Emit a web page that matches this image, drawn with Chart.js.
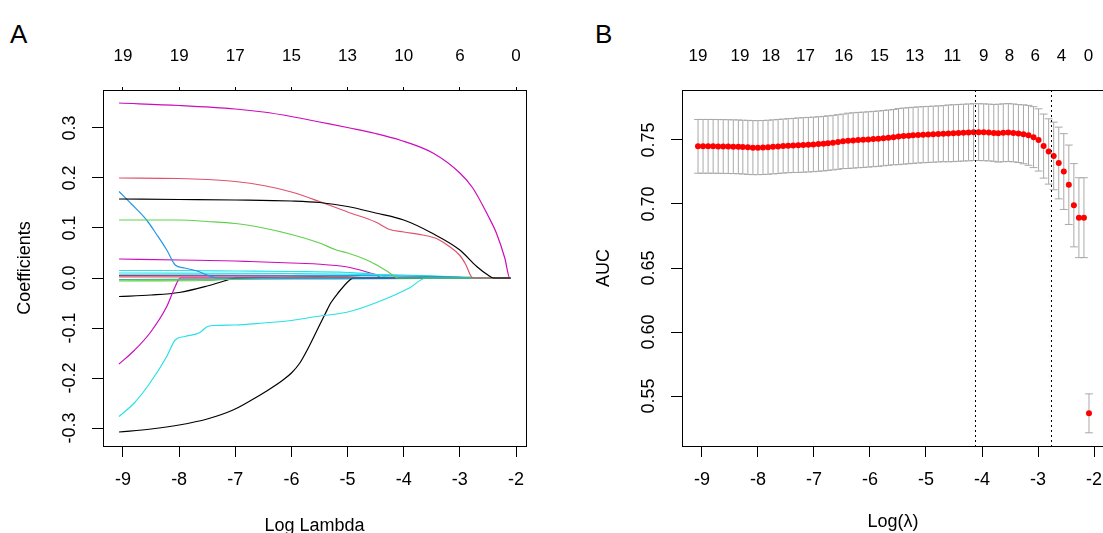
<!DOCTYPE html>
<html>
<head>
<meta charset="utf-8">
<script src="https://cdn.jsdelivr.net/npm/chart.js@4.4.1/dist/chart.umd.min.js"></script>
<style>
  body { margin: 0; width: 1103px; height: 533px; overflow: hidden; position: relative; background: #fff; }
  .panel-label { position: absolute; font: 26px 'Liberation Sans', Arial, sans-serif; line-height: 1; color: #000; }
  .wrap { position: absolute; top: 0; height: 533px; }
</style>
</head>
<body>
<div class="panel-label" style="left:10px;top:21px">A</div>
<div class="panel-label" style="left:595px;top:21px">B</div>
<div class="wrap" style="left:0;width:551px"><canvas id="chartA" width="551" height="533"></canvas></div>
<div class="wrap" style="left:551px;width:600px"><canvas id="chartB" width="600" height="533"></canvas></div>
<script>
// axis ranges / ticks
const xRange = [-9.356, -1.822];
const xTicks = [-9, -8, -7, -6, -5, -4, -3, -2];
const yRangeA = [-0.336, 0.376];
const yTicksA = [-0.3, -0.2, -0.1, 0, 0.1, 0.2, 0.3];
const yRangeB = [0.511, 0.789];
const yTicksB = [0.55, 0.60, 0.65, 0.70, 0.75];

// top axis: number of non-zero coefficients
const topLabelsA = ['19', '19', '17', '15', '13', '10', '6', '0'];
const topPosB = [-9.07, -8.32, -7.77, -7.15, -6.47, -5.83, -5.20, -4.53, -3.97, -3.51, -3.05, -2.58, -2.10];
const topLabelsB = ['19', '19', '18', '17', '16', '15', '13', '11', '9', '8', '6', '4', '0'];

// Panel A: coefficient paths (log lambda knots, coefficient values)
const x01 = [-9.07, -8, -7, -6, -5.5, -5, -4.5, -4, -3.5, -3, -2.7, -2.5, -2.4, -2.1];
const b01 = [0.158, 0.157, 0.156, 0.154, 0.151, 0.143, 0.13, 0.116, 0.09, 0.056, 0.023, 0.006, 0, 0];
const x02 = [-9.07, -8, -7.5, -7, -6.5, -6, -5.5, -5, -4.5, -4.25, -4, -3.66, -3.4, -3.2, -3, -2.9, -2.77, -2.1];
const b02 = [0.2, 0.199, 0.197, 0.193, 0.185, 0.172, 0.153, 0.132, 0.112, 0.097, 0.092, 0.086, 0.078, 0.064, 0.045, 0.028, 0, 0];
const x03 = [-9.07, -8, -7.5, -7, -6.5, -6, -5.5, -5.2, -5, -4.7, -4.48, -4.25, -4.1, -2.1];
const b03 = [0.116, 0.116, 0.113, 0.109, 0.1, 0.087, 0.07, 0.056, 0.05, 0.038, 0.026, 0.01, 0, 0];
const x04 = [-9.07, -8.85, -8.58, -8.4, -8.22, -8.07, -7.9, -7.63, -7.55, -7.3, -2.1];
const b04 = [0.173, 0.148, 0.116, 0.087, 0.056, 0.026, 0.02, 0.012, 0.008, 0, 0];
const x05 = [-9.07, -8.8, -8.52, -8.22, -8.07, -7.9, -7.63, -7.51, -7.4, -7, -6.5, -6, -5.55, -4.96, -4.37, -3.9, -3.6, -2.1];
const b05 = [-0.277, -0.25, -0.21, -0.157, -0.124, -0.117, -0.109, -0.098, -0.095, -0.094, -0.09, -0.085, -0.077, -0.067, -0.044, -0.02, 0, 0];
const x06 = [-9.07, -8, -7, -6.5, -6, -5.5, -4.96, -4.5, -4.07, -3.48, -3, -2.77, -2.5, -2.35, -2.2, -2.11, -2.1];
const b06 = [0.35, 0.345, 0.338, 0.332, 0.323, 0.312, 0.3, 0.289, 0.276, 0.25, 0.21, 0.18, 0.125, 0.09, 0.04, 0, 0];
const x07 = [-9.07, -8.5, -8, -7.5, -7.04, -6.74, -6.44, -6.15, -6, -5.85, -5.7, -5.55, -5.4, -5.3, -5.17, -4.96, -4.9, -2.1];
const b07 = [-0.308, -0.302, -0.294, -0.282, -0.264, -0.246, -0.226, -0.204, -0.19, -0.17, -0.14, -0.106, -0.072, -0.05, -0.03, -0.004, 0, 0];
const x08 = [-9.07, -7, -5, -4.6, -2.1];
const b08 = [0.004, 0.004, 0.003, 0, 0];
const x09 = [-9.07, -7, -6.2, -2.1];
const b09 = [-0.004, -0.003, 0, 0];
const x10 = [-9.07, -6, -3.5, -2.9, -2.1];
const b10 = [-0.003, -0.002, -0.001, 0, 0];
const x11 = [-9.07, -8, -7, -6, -5, -4.5, -4.2, -2.1];
const b11 = [0.015, 0.015, 0.014, 0.013, 0.011, 0.007, 0, 0];
const x12 = [-9.07, -8.8, -8.52, -8.22, -8.07, -7.98, -2.1];
const b12 = [-0.172, -0.145, -0.11, -0.057, -0.017, 0, 0];
const x13 = [-9.07, -8.5, -8, -7.5, -7.2, -7, -2.1];
const b13 = [-0.037, -0.034, -0.029, -0.016, -0.006, 0, 0];
const x14 = [-9.07, -6.5, -5.8, -2.1];
const b14 = [0.002, 0.002, 0, 0];
const x15 = [-9.07, -7.5, -6.8, -2.1];
const b15 = [-0.006, -0.005, 0, 0];
const x16 = [-9.07, -5, -3, -2.6, -2.1];
const b16 = [0.006, 0.005, 0.002, 0, 0];
const x17 = [-9.07, -6, -4, -3, -2.5, -2.1];
const b17 = [0.01, 0.009, 0.006, 0.002, 0, 0];
const x18 = [-9.07, -8, -7, -6.74, -6, -5.55, -5, -4.78, -4.6, -4.48, -4.4, -2.1];
const b18 = [0.038, 0.036, 0.034, 0.033, 0.03, 0.028, 0.022, 0.016, 0.01, 0.006, 0, 0];
const x19 = [-9.07, -7, -5.5, -4.9, -2.1];
const b19 = [0.005, 0.005, 0.003, 0, 0];

// Panel B: cross-validated AUC
const logLambdaB = [
  -9.07, -8.98, -8.89, -8.80, -8.71, -8.62, -8.53, -8.44, -8.35, -8.27,
  -8.18, -8.09, -8.00, -7.91, -7.82, -7.73, -7.64, -7.55, -7.46, -7.37,
  -7.28, -7.19, -7.10, -7.01, -6.92, -6.83, -6.75, -6.66, -6.57, -6.48,
  -6.39, -6.30, -6.21, -6.12, -6.03, -5.94, -5.85, -5.76, -5.67, -5.58,
  -5.49, -5.40, -5.31, -5.23, -5.14, -5.05, -4.96, -4.87, -4.78, -4.69,
  -4.60, -4.51, -4.42, -4.33, -4.24, -4.15, -4.06, -3.97, -3.88, -3.79,
  -3.71, -3.62, -3.53, -3.44, -3.35, -3.26, -3.17, -3.08, -2.99, -2.90,
  -2.81, -2.72, -2.63, -2.54, -2.45, -2.36, -2.27, -2.18, -2.09
];
const aucMean = [
  0.7450, 0.7450, 0.7450, 0.7450, 0.7449, 0.7449, 0.7448, 0.7447, 0.7446, 0.7444,
  0.7442, 0.7440, 0.7440, 0.7441, 0.7443, 0.7446, 0.7449, 0.7452, 0.7455, 0.7457,
  0.7459, 0.7461, 0.7463, 0.7465, 0.7468, 0.7471, 0.7475, 0.7479, 0.7484, 0.7489,
  0.7493, 0.7496, 0.7499, 0.7501, 0.7504, 0.7507, 0.7510, 0.7514, 0.7518, 0.7522,
  0.7526, 0.7530, 0.7533, 0.7536, 0.7539, 0.7541, 0.7543, 0.7545, 0.7547, 0.7549,
  0.7551, 0.7553, 0.7555, 0.7557, 0.7559, 0.7561, 0.7561, 0.7560, 0.7558, 0.7555,
  0.7553, 0.7556, 0.7558, 0.7555, 0.7550, 0.7544, 0.7536, 0.7522, 0.7500, 0.7452,
  0.7410, 0.7375, 0.7320, 0.7253, 0.7150, 0.6990, 0.6893, 0.6893, 0.5365
];
const aucSe = [
  0.0210, 0.0210, 0.0210, 0.0210, 0.0210, 0.0210, 0.0210, 0.0210, 0.0210, 0.0210,
  0.0211, 0.0211, 0.0211, 0.0211, 0.0211, 0.0211, 0.0211, 0.0211, 0.0211, 0.0211,
  0.0213, 0.0213, 0.0213, 0.0213, 0.0213, 0.0213, 0.0213, 0.0213, 0.0213, 0.0213,
  0.0216, 0.0216, 0.0216, 0.0216, 0.0216, 0.0216, 0.0216, 0.0216, 0.0216, 0.0216,
  0.0219, 0.0219, 0.0219, 0.0219, 0.0219, 0.0219, 0.0219, 0.0219, 0.0219, 0.0219,
  0.0222, 0.0222, 0.0222, 0.0222, 0.0222, 0.0222, 0.0222, 0.0222, 0.0222, 0.0222,
  0.0226, 0.0226, 0.0226, 0.0226, 0.0226, 0.0230, 0.0234, 0.0238, 0.0243, 0.0250,
  0.0255, 0.0264, 0.0280, 0.0296, 0.0310, 0.0325, 0.0312, 0.0312, 0.0152
];
const lambdaMinLog = -4.13;
const lambda1seLog = -2.77;

// R default palette used by matplot
const pathColors = ['#000000', '#DF536B', '#61D04F', '#2297E6', '#28E2E5', '#CD0BBC'];
const FONT = "'Liberation Sans', Arial, Helvetica, sans-serif";

const paths = [
  [x01, b01], [x02, b02], [x03, b03], [x04, b04], [x05, b05], [x06, b06], [x07, b07],
  [x08, b08], [x09, b09], [x10, b10], [x11, b11], [x12, b12], [x13, b13], [x14, b14],
  [x15, b15], [x16, b16], [x17, b17], [x18, b18], [x19, b19]
];

// frame around the plot region
const boxPlugin = {
  id: 'box',
  afterDraw(chart) {
    const { ctx, chartArea: a } = chart;
    ctx.save();
    ctx.strokeStyle = '#000';
    ctx.lineWidth = 1;
    ctx.strokeRect(Math.round(a.left) + 0.5, Math.round(a.top) + 0.5,
      Math.round(a.right - a.left), Math.round(a.bottom - a.top));
    ctx.restore();
  }
};

// grey error bars (behind the red points)
const errorBarPlugin = {
  id: 'errorBars',
  beforeDatasetsDraw(chart) {
    const { ctx, scales: { x, y } } = chart;
    const barw = 0.01 * (logLambdaB[logLambdaB.length - 1] - logLambdaB[0]);
    ctx.save();
    ctx.strokeStyle = '#A9A9A9';
    ctx.lineWidth = 1;
    logLambdaB.forEach((lx, i) => {
      const hi = y.getPixelForValue(aucMean[i] + aucSe[i]);
      const lo = y.getPixelForValue(aucMean[i] - aucSe[i]);
      const px = x.getPixelForValue(lx);
      const l = x.getPixelForValue(lx - barw);
      const r = x.getPixelForValue(lx + barw);
      ctx.beginPath();
      ctx.moveTo(px, hi); ctx.lineTo(px, lo);
      ctx.moveTo(l, hi); ctx.lineTo(r, hi);
      ctx.moveTo(l, lo); ctx.lineTo(r, lo);
      ctx.stroke();
    });
    ctx.restore();
  }
};

// dotted lines at lambda.min and lambda.1se
const lambdaLinesPlugin = {
  id: 'lambdaLines',
  afterDatasetsDraw(chart) {
    const { ctx, chartArea: a, scales: { x } } = chart;
    ctx.save();
    ctx.strokeStyle = '#000';
    ctx.lineWidth = 1;
    ctx.setLineDash([2, 3]);
    [lambdaMinLog, lambda1seLog].forEach(v => {
      const px = Math.round(x.getPixelForValue(v)) + 0.5;
      ctx.beginPath();
      ctx.moveTo(px, a.top);
      ctx.lineTo(px, a.bottom);
      ctx.stroke();
    });
    ctx.restore();
  }
};

function bottomAxis(title, titlePad) {
  return {
    type: 'linear', position: 'bottom', min: xRange[0], max: xRange[1],
    afterBuildTicks: s => { s.ticks = xTicks.map(v => ({ value: v })); },
    afterFit: s => { s.height = 87; },
    ticks: { color: '#000', font: { family: FONT, size: 18 }, padding: 12, maxRotation: 0, autoSkip: false,
      callback: v => String(v) },
    grid: { drawOnChartArea: false, tickLength: 11, color: '#000', lineWidth: 1 },
    border: { display: false },
    title: { display: true, text: title, color: '#000', font: { family: FONT, size: 18 }, padding: titlePad }
  };
}

function topAxis(positions, labels, tickLen, pad) {
  return {
    type: 'linear', position: 'top', min: xRange[0], max: xRange[1],
    afterBuildTicks: s => { s.ticks = positions.map(v => ({ value: v })); },
    afterFit: s => { s.height = 90; },
    ticks: { color: '#000', font: { family: FONT, size: 17 }, padding: pad, maxRotation: 0, autoSkip: false,
      callback: (v, i) => labels[i] },
    grid: { drawOnChartArea: false, drawTicks: tickLen > 0, tickLength: tickLen, color: '#000' },
    border: { display: false }
  };
}

function leftAxis(range, ticks, digits, width, title, tickPad, titlePad) {
  return {
    type: 'linear', position: 'left', min: range[0], max: range[1],
    afterBuildTicks: s => { s.ticks = ticks.map(v => ({ value: v })); },
    afterFit: s => { s.width = width; },
    ticks: { color: '#000', font: { family: FONT, size: 18 }, padding: tickPad, minRotation: 90, maxRotation: 90,
      crossAlign: 'center', autoSkip: false, callback: v => v.toFixed(digits) },
    grid: { drawOnChartArea: false, tickLength: 11, color: '#000' },
    border: { display: false },
    title: { display: true, text: title, color: '#000', font: { family: FONT, size: 18 }, padding: { top: titlePad, bottom: 0 } }
  };
}

const common = {
  responsive: false,
  animation: false,
  events: [],
  plugins: { legend: { display: false }, tooltip: { enabled: false } }
};

// Panel A
new Chart(document.getElementById('chartA'), {
  type: 'line',
  data: {
    datasets: paths.map(([xs, ys], i) => ({
      data: xs.map((x, j) => ({ x: x, y: ys[j] })),
      borderColor: pathColors[i % pathColors.length],
      borderWidth: 1.2,
      pointRadius: 0,
      cubicInterpolationMode: 'monotone',
      fill: false
    }))
  },
  options: Object.assign({}, common, {
    layout: { padding: { left: 0, right: 25, top: 0, bottom: 0 } },
    scales: {
      x: bottomAxis('Log Lambda', { top: 0, bottom: -4 }),
      xTop: topAxis(xTicks, topLabelsA, 3, 20),
      y: leftAxis(yRangeA, yTicksA, 1, 103, 'Coefficients', 6, 14)
    }
  }),
  plugins: [boxPlugin]
});

// Panel B (canvas runs past the page edge so the frame's right side is off-screen)
new Chart(document.getElementById('chartB'), {
  type: 'scatter',
  data: {
    datasets: [{
      data: logLambdaB.map((x, i) => ({ x: x, y: aucMean[i] })),
      pointRadius: 3,
      pointBackgroundColor: '#FF0000',
      pointBorderColor: '#FF0000',
      pointBorderWidth: 0,
      showLine: false
    }]
  },
  options: Object.assign({}, common, {
    layout: { padding: { left: 0, right: 47, top: 0, bottom: 0 } },
    scales: {
      x: bottomAxis('Log(\u03bb)', { top: 0, bottom: 0 }),
      xTop: topAxis(topPosB, topLabelsB, 0, 23),
      y: leftAxis(yRangeB, yTicksB, 2, 131, 'AUC', 4, 42)
    }
  }),
  plugins: [errorBarPlugin, lambdaLinesPlugin, boxPlugin]
});
</script>
</body>
</html>
